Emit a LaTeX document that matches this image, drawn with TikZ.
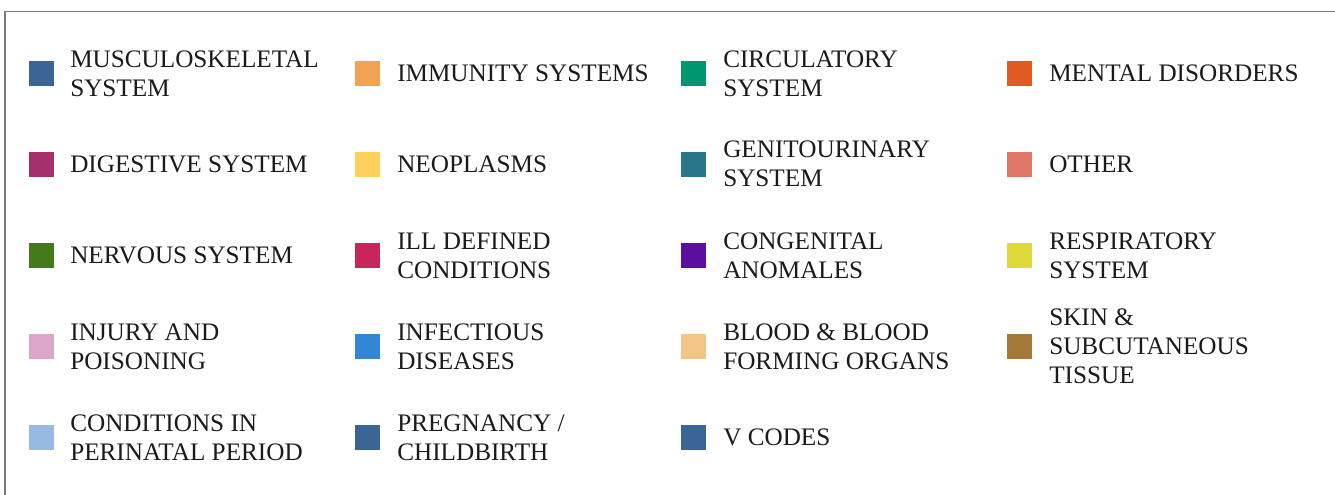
\documentclass[tikz,border=0pt]{standalone}
\usepackage{fontspec}
\setmainfont{Liberation Serif}
\definecolor{cMusc}{HTML}{3A6595}
\definecolor{cImm}{HTML}{F0A453}
\definecolor{cCirc}{HTML}{009670}
\definecolor{cMent}{HTML}{E05A22}
\definecolor{cDig}{HTML}{A3306A}
\definecolor{cNeo}{HTML}{FFD05C}
\definecolor{cGen}{HTML}{28768A}
\definecolor{cOth}{HTML}{E07668}
\definecolor{cNerv}{HTML}{437A1A}
\definecolor{cIll}{HTML}{C8265A}
\definecolor{cCong}{HTML}{5B0EA0}
\definecolor{cResp}{HTML}{E1D83A}
\definecolor{cInj}{HTML}{DCA5CA}
\definecolor{cInf}{HTML}{3385D6}
\definecolor{cBlood}{HTML}{F3C587}
\definecolor{cSkin}{HTML}{A67838}
\definecolor{cPeri}{HTML}{97BAE3}
\definecolor{cText}{HTML}{1A1A1A}
\definecolor{cFrame}{HTML}{7A7A7A}
\begin{document}
\begin{tikzpicture}[x=0.75pt,y=-0.75pt,
  swatch/.style={fill=#1, draw=none, minimum width=18.75pt, minimum height=18.75pt, inner sep=0pt, outer sep=0pt},
  label/.style={anchor=west, inner sep=0pt, align=left, text=cText,
    font=\fontsize{18.9}{21.75}\selectfont}]
\useasboundingbox (0,0) rectangle (1335,494);
\clip (0,0) rectangle (1335,494);
\draw[cFrame, line width=1.1pt] (5,11.5) rectangle (1345,510);
% column x: swatch centers 41.5, 367.5, 693.5, 1019.5 ; text 70, 397, 723, 1049
% row y: 73.5, 164, 255.5, 346.5, 437.5
\foreach \name/\col/\cx/\tx/\cy/\txt in {
  s11/cMusc/41.5/70/73.5/{MUSCULOSKELETAL\\SYSTEM},
  s12/cImm/367.5/397/73.5/{IMMUNITY SYSTEMS},
  s13/cCirc/693.5/723/73.5/{CIRCULATORY\\SYSTEM},
  s14/cMent/1019.5/1049/73.5/{MENTAL DISORDERS},
  s21/cDig/41.5/70/164/{DIGESTIVE SYSTEM},
  s22/cNeo/367.5/397/164/{NEOPLASMS},
  s23/cGen/693.5/723/164/{GENITOURINARY\\SYSTEM},
  s24/cOth/1019.5/1049/164/{OTHER},
  s31/cNerv/41.5/70/255.5/{NERVOUS SYSTEM},
  s32/cIll/367.5/397/255.5/{ILL DEFINED\\CONDITIONS},
  s33/cCong/693.5/723/255.5/{CONGENITAL\\ANOMALES},
  s34/cResp/1019.5/1049/255.5/{RESPIRATORY\\SYSTEM},
  s41/cInj/41.5/70/346.5/{INJURY AND\\POISONING},
  s42/cInf/367.5/397/346.5/{INFECTIOUS\\DISEASES},
  s43/cBlood/693.5/723/346.5/{BLOOD \& BLOOD\\FORMING ORGANS},
  s44/cSkin/1019.5/1049/346.5/{SKIN \&\\SUBCUTANEOUS\\TISSUE},
  s51/cPeri/41.5/70/437.5/{CONDITIONS IN\\PERINATAL PERIOD},
  s52/cMusc/367.5/397/437.5/{PREGNANCY /\\CHILDBIRTH},
  s53/cMusc/693.5/723/437.5/{V CODES}}
{
  \node[swatch=\col] (\name) at (\cx,\cy) {};
  \node[label] (\name-t) at (\tx,\cy) {\txt};
}
\end{tikzpicture}
\end{document}
